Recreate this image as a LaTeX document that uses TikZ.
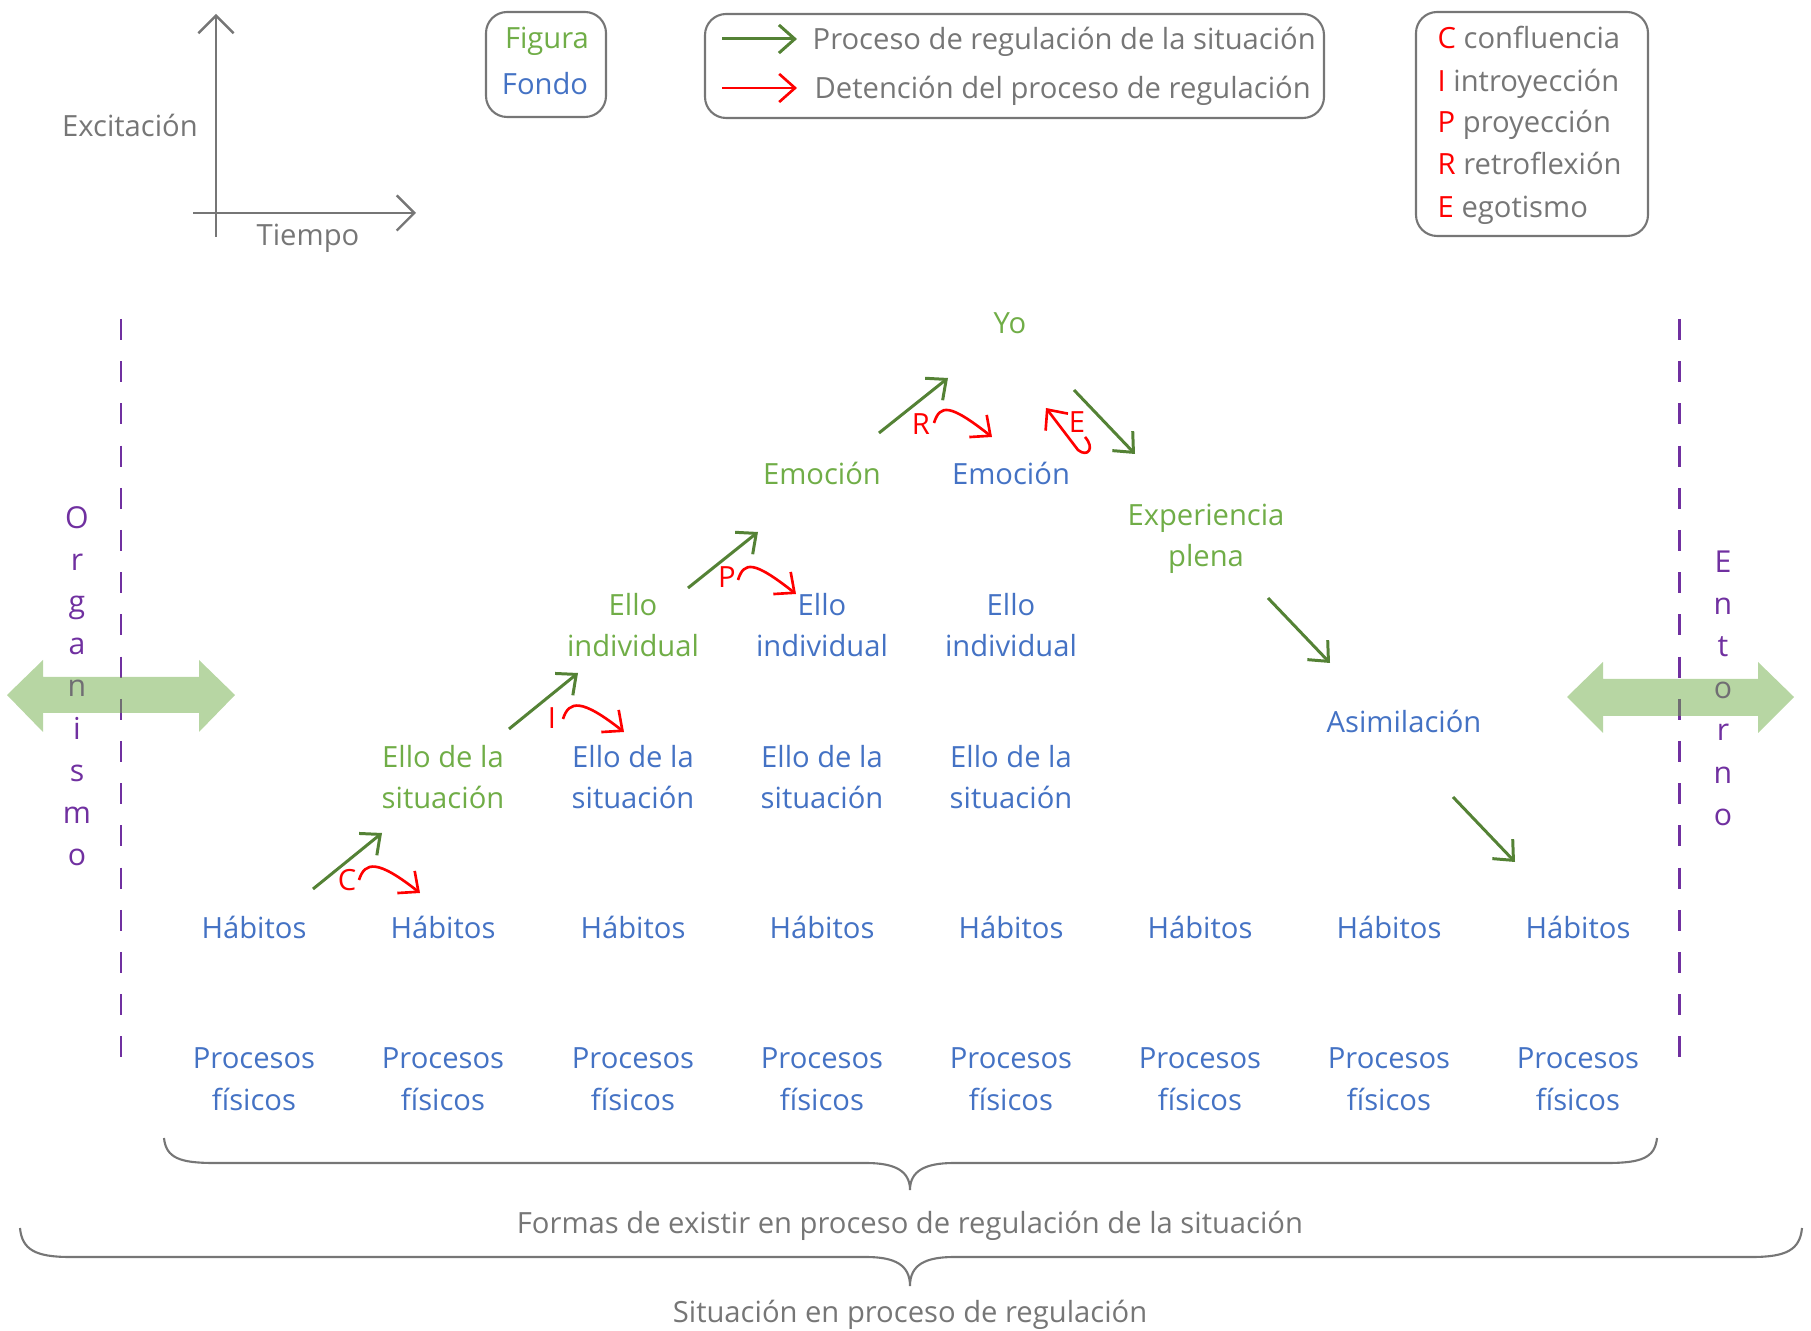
\documentclass[tikz,border=0pt]{standalone}
\usepackage{fontspec}
\setmainfont{Open Sans}
\usetikzlibrary{arrows.meta}
\definecolor{figgreen}{RGB}{112,173,71}
\definecolor{fonblue}{RGB}{68,114,196}
\definecolor{arrgreen}{RGB}{84,130,53}
\definecolor{txtgray}{RGB}{118,118,118}
\definecolor{purp}{RGB}{112,48,160}
\newcommand\mfs{\fontsize{8.3}{11.8}\selectfont}
\begin{document}
\begin{tikzpicture}[x=0.01cm,y=-0.01cm,
  fig/.style={text=figgreen,font=\mfs,align=center,inner sep=0pt},
  fon/.style={text=fonblue,font=\mfs,align=center,inner sep=0pt},
  gtxt/.style={text=txtgray,font=\mfs,inner sep=0pt},
  garr/.style={draw=arrgreen,line width=0.85pt,-{Straight Barb[length=4.5pt,width=8pt]}},
  rarr/.style={draw=red,line width=0.75pt,-{Straight Barb[length=4.5pt,width=8pt]}},
  rlab/.style={text=red,font=\mfs,inner sep=0pt},
  lbox/.style={draw=txtgray,line width=0.6pt,rounded corners=6pt},
  axis/.style={draw=txtgray,line width=0.7pt,-{Straight Barb[length=5pt,width=10pt]}},
  vdash/.style={draw=purp,line width=0.85pt,dash pattern=on 6pt off 6pt},
  brace/.style={draw=txtgray,line width=0.6pt},
  purtxt/.style={text=purp,font=\fontsize{8.6}{12}\selectfont,align=center,inner sep=0pt},
  bigarr/.style={fill=figgreen,fill opacity=0.5,draw=none}
]
\useasboundingbox (0,0) rectangle (1811,1331);

% axes
\coordinate (axb) at (216,237); \coordinate (axt) at (216,14);
\coordinate (axl) at (193,213); \coordinate (axr) at (416,213);
\draw[axis] (axb) -- (axt);
\draw[axis] (axl) -- (axr);
\node[gtxt] (exc) at (130,125) {Excitación};
\node[gtxt] (tie) at (308,238) {Tiempo};

% legend 1
\draw[lbox] (486,12) rectangle (606,117);
\node[fig,anchor=base] (lfig) at (547,49) {Figura};
\node[fon,anchor=base] (lfon) at (545,95) {Fondo};

% legend 2
\draw[lbox] (705,14) rectangle (1324,118);
\coordinate (lg1s) at (722,39); \coordinate (lg1e) at (797,39);
\coordinate (lg2s) at (722,88); \coordinate (lg2e) at (797,88);
\draw[garr] (lg1s) -- (lg1e);
\draw[rarr] (lg2s) -- (lg2e);
\node[gtxt,anchor=base west] (lt1) at (812,50) {Proceso de regulación de la situación};
\node[gtxt,anchor=base west] (lt2) at (814,99) {Detención del proceso de regulación};

% legend 3
\draw[lbox] (1416,12) rectangle (1648,236);
\node[gtxt,anchor=base west] (kc) at (1437,49) {\textcolor{red}{C} confluencia};
\node[gtxt,anchor=base west] (ki) at (1437,92) {\textcolor{red}{I} introyección};
\node[gtxt,anchor=base west] (kp) at (1437,133) {\textcolor{red}{P} proyección};
\node[gtxt,anchor=base west] (kr) at (1437,175) {\textcolor{red}{R} retroflexión};
\node[gtxt,anchor=base west] (ke) at (1437,218) {\textcolor{red}{E} egotismo};

% dashed borders
\coordinate (dl1) at (121,319); \coordinate (dl2) at (121,1063);
\coordinate (dr1) at (1679,319); \coordinate (dr2) at (1679,1063);
\draw[vdash] (dl1) -- (dl2);
\draw[vdash] (dr1) -- (dr2);
\node[purtxt] (org) at (77,686) {O\\r\\g\\a\\n\\i\\s\\m\\o};
\node[purtxt] (ent) at (1723,688) {E\\n\\t\\o\\r\\n\\o};

% big double arrows
\path[bigarr] (7,695) -- (43,660) -- (43,677) -- (199,677) -- (199,660) -- (235,695)
  -- (199,732) -- (199,713) -- (43,713) -- (43,732) -- cycle;
\path[bigarr] (1567,697) -- (1603,662) -- (1603,679) -- (1758,679) -- (1758,662) -- (1794,697)
  -- (1758,733) -- (1758,716) -- (1603,716) -- (1603,733) -- cycle;

% main nodes
\foreach \i/\x in {1/254,2/443,3/633,4/822,5/1011,6/1200,7/1389,8/1578}{
  \node[fon] (pf\i) at (\x,1079) {Procesos\\físicos};
  \node[fon] (hab\i) at (\x,927) {Hábitos};
}
\node[fig] (els2) at (443,777) {Ello de la\\situación};
\node[fon] (els3) at (633,777) {Ello de la\\situación};
\node[fon] (els4) at (822,777) {Ello de la\\situación};
\node[fon] (els5) at (1011,777) {Ello de la\\situación};
\node[fig] (eli3) at (633,625) {Ello\\individual};
\node[fon] (eli4) at (822,625) {Ello\\individual};
\node[fon] (eli5) at (1011,625) {Ello\\individual};
\node[fig] (emo4) at (822,473) {Emoción};
\node[fon] (emo5) at (1011,473) {Emoción};
\node[fig] (yo) at (1010,323) {Yo};
\node[fig] (exp) at (1206,539) {Experiencia\\plena};
\node[fon] (asim) at (1404,721) {Asimilación};

% green arrows
\coordinate (g1s) at (313,889); \coordinate (g1e) at (382,833);
\coordinate (g2s) at (509,729); \coordinate (g2e) at (578,673);
\coordinate (g3s) at (688,588); \coordinate (g3e) at (758,532);
\coordinate (g4s) at (879,433); \coordinate (g4e) at (948,378);
\coordinate (g5s) at (1074,390); \coordinate (g5e) at (1135,454);
\coordinate (g6s) at (1268,598); \coordinate (g6e) at (1330,663);
\coordinate (g7s) at (1453,797); \coordinate (g7e) at (1515,862);
\foreach \k in {1,...,7}{\draw[garr] (g\k s) -- (g\k e);}

% red arrows
\coordinate (rcs) at (359,880); \coordinate (rce) at (420,893);
\coordinate (ris) at (563,719); \coordinate (rie) at (624,732);
\coordinate (rps) at (738,580); \coordinate (rpe) at (796,594);
\coordinate (rrs) at (934,423); \coordinate (rre) at (992,437);
\foreach \k in {c,i,p,r}{\draw[rarr] (r\k s) .. controls +(6,-19) and +(-42,-33) .. (r\k e);}
\node[rlab] (lc) at (347,880) {C};
\node[rlab] (li) at (552,718) {I};
\node[rlab] (lp) at (727,577) {P};
\node[rlab] (lr) at (921,424) {R};
\node[rlab] (le) at (1077,422) {E};
\coordinate (res) at (1085,437); \coordinate (ree) at (1046,408);
\draw[rarr] (res) .. controls (1095,448) and (1088,458) .. (1078,450) -- (ree);

% braces
\coordinate (b1l) at (164,1138); \coordinate (b1r) at (1657,1138); \coordinate (b1m) at (910,1190);
\draw[brace] (b1l) .. controls (166,1158) and (180,1163) .. (214,1163) -- (866,1163)
  .. controls (895,1163) and (910,1171) .. (b1m)
  .. controls (910,1171) and (925,1163) .. (954,1163) -- (1607,1163)
  .. controls (1641,1163) and (1655,1158) .. (b1r);
\coordinate (b2l) at (20,1228); \coordinate (b2r) at (1802,1228); \coordinate (b2m) at (910,1286);
\draw[brace] (b2l) .. controls (22,1250) and (36,1257) .. (70,1257) -- (866,1257)
  .. controls (895,1257) and (910,1265) .. (b2m)
  .. controls (910,1265) and (925,1257) .. (954,1257) -- (1752,1257)
  .. controls (1786,1257) and (1800,1250) .. (b2r);
\node[gtxt] (bt1) at (910,1226) {Formas de existir en proceso de regulación de la situación};
\node[gtxt] (bt2) at (910,1315) {Situación en proceso de regulación};
\end{tikzpicture}
\end{document}
